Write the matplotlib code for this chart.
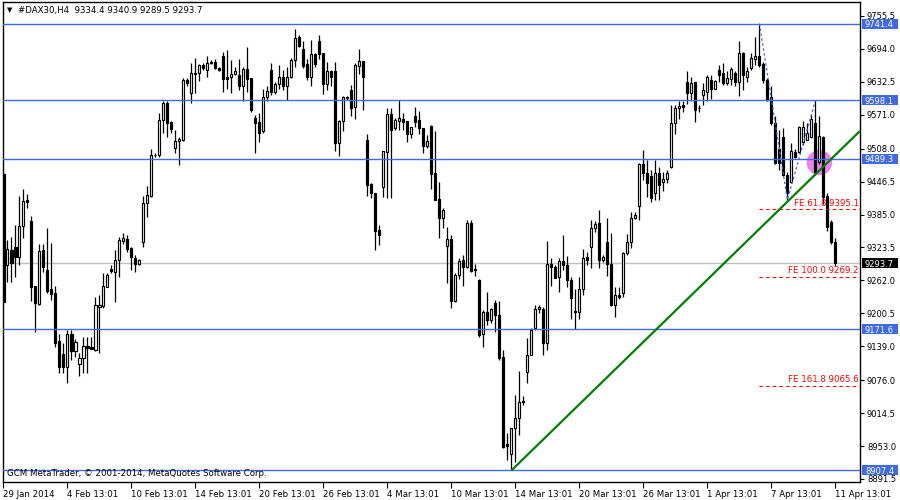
import numpy as np
import matplotlib.pyplot as plt
from matplotlib.patches import Ellipse, Rectangle
from matplotlib.transforms import blended_transform_factory

# DAX30 H4 bars
opens = [9461, 9290, 9319, 9324, 9305, 9363, 9412, 9373, 9252, 9218,
         9319, 9282, 9246, 9238, 9149, 9125, 9101, 9163, 9131, 9107,
         9117, 9140, 9138, 9132, 9213, 9215, 9250, 9283, 9278, 9300,
         9336, 9340, 9322, 9303, 9292, 9334, 9407, 9420, 9496, 9496,
         9561, 9593, 9558, 9510, 9523, 9524, 9636, 9612, 9650, 9649,
         9664, 9655, 9668, 9670, 9659, 9681, 9642, 9641, 9647, 9645,
         9624, 9657, 9639, 9566, 9558, 9540, 9605, 9655, 9614, 9629,
         9642, 9625, 9641, 9673, 9716, 9693, 9666, 9641, 9685, 9709,
         9686, 9628, 9653, 9653, 9519, 9560, 9603, 9617, 9585, 9663,
         9671, 9524, 9442, 9425, 9356, 9437, 9502, 9572, 9546, 9560,
         9564, 9560, 9536, 9569, 9561, 9547, 9512, 9551, 9462, 9414,
         9378, 9327, 9339, 9224, 9272, 9300, 9288, 9369, 9284, 9263,
         9162, 9203, 9188, 9219, 9198, 9119, 8956, 8939, 8986, 9006,
         9035, 9092, 9123, 9173, 9209, 9209, 9145, 9292, 9288, 9269,
         9298, 9291, 9263, 9205, 9203, 9246, 9305, 9325, 9359, 9369,
         9301, 9334, 9292, 9216, 9235, 9238, 9314, 9334, 9378, 9400,
         9479, 9463, 9457, 9425, 9463, 9446, 9451, 9474, 9555, 9583,
         9589, 9633, 9612, 9632, 9583, 9608, 9614, 9636, 9620, 9655,
         9650, 9631, 9637, 9650, 9633, 9686, 9642, 9658, 9676, 9681,
         9666, 9636, 9605, 9555, 9508, 9530, 9459, 9446, 9502, 9502,
         9521, 9525, 9530, 9555, 9483, 9530, 9420, 9372, 9334.4]
highs = [9465, 9338, 9344, 9366, 9420, 9432, 9423, 9382, 9252, 9330,
         9330, 9359, 9331, 9252, 9163, 9145, 9170, 9170, 9152, 9127,
         9157, 9157, 9157, 9232, 9235, 9275, 9275, 9291, 9319, 9344,
         9351, 9347, 9325, 9310, 9302, 9420, 9438, 9507, 9499, 9574,
         9596, 9596, 9560, 9542, 9529, 9639, 9639, 9668, 9677, 9666,
         9667, 9680, 9673, 9675, 9661, 9689, 9692, 9673, 9661, 9676,
         9661, 9698, 9640, 9571, 9575, 9620, 9624, 9668, 9633, 9664,
         9655, 9661, 9678, 9732, 9720, 9709, 9675, 9711, 9686, 9720,
         9687, 9670, 9655, 9670, 9561, 9606, 9606, 9627, 9667, 9693,
         9672, 9535, 9444, 9425, 9365, 9504, 9583, 9584, 9565, 9599,
         9574, 9560, 9549, 9585, 9579, 9547, 9533, 9552, 9541, 9445,
         9397, 9362, 9347, 9275, 9303, 9310, 9375, 9375, 9292, 9265,
         9207, 9241, 9210, 9226, 9224, 9132, 8977, 8986, 9048, 9093,
         9047, 9154, 9173, 9216, 9216, 9213, 9336, 9303, 9290, 9303,
         9346, 9308, 9269, 9246, 9269, 9321, 9316, 9375, 9373, 9393,
         9310, 9379, 9350, 9249, 9249, 9315, 9348, 9390, 9390, 9481,
         9505, 9487, 9468, 9487, 9474, 9465, 9468, 9589, 9589, 9596,
         9596, 9652, 9641, 9633, 9589, 9630, 9645, 9645, 9636, 9664,
         9667, 9652, 9661, 9652, 9708, 9689, 9661, 9686, 9717, 9741.4,
         9670, 9639, 9624, 9568, 9543, 9546, 9465, 9518, 9508, 9550,
         9560, 9555, 9571, 9598.1, 9568, 9531, 9425, 9375, 9340.9]
lows = [9220, 9260, 9260, 9269, 9291, 9341, 9398, 9224, 9165, 9216,
        9278, 9238, 9226, 9138, 9089, 9090, 9071, 9114, 9119, 9083,
        9090, 9090, 9135, 9131, 9127, 9210, 9249, 9275, 9222, 9269,
        9330, 9316, 9282, 9278, 9291, 9325, 9381, 9418, 9492, 9492,
        9537, 9529, 9538, 9499, 9477, 9523, 9624, 9593, 9611, 9635,
        9655, 9642, 9666, 9656, 9653, 9614, 9620, 9611, 9645, 9617,
        9596, 9614, 9577, 9500, 9521, 9538, 9596, 9608, 9610, 9620,
        9617, 9599, 9639, 9661, 9698, 9659, 9636, 9624, 9661, 9676,
        9610, 9617, 9624, 9504, 9494, 9540, 9599, 9568, 9563, 9648,
        9581, 9420, 9415, 9319, 9328, 9417, 9415, 9415, 9543, 9543,
        9543, 9521, 9527, 9549, 9536, 9500, 9510, 9433, 9412, 9342,
        9360, 9257, 9211, 9222, 9265, 9252, 9286, 9278, 9271, 9157,
        9138, 9179, 9182, 9166, 9114, 8949, 8927, 8907.4, 8924, 8974,
        9030, 9070, 9122, 9170, 9201, 9123, 9132, 9252, 9266, 9240,
        9282, 9249, 9190, 9171, 9190, 9234, 9291, 9285, 9353, 9285,
        9297, 9271, 9215, 9194, 9227, 9232, 9310, 9323, 9377, 9375,
        9449, 9418, 9409, 9412, 9412, 9428, 9444, 9471, 9536, 9563,
        9577, 9592, 9596, 9558, 9577, 9589, 9596, 9600, 9619, 9633,
        9627, 9627, 9627, 9624, 9606, 9617, 9633, 9655, 9664, 9661,
        9630, 9596, 9552, 9480, 9468, 9456, 9412.5, 9443, 9490, 9499,
        9515, 9524, 9527, 9459, 9480, 9405, 9355, 9330, 9289.5]
closes = [9222, 9320, 9295, 9305, 9364, 9410, 9409, 9250, 9219, 9317,
          9288, 9243, 9237, 9146, 9101, 9101, 9163, 9131, 9147, 9117,
          9140, 9136, 9135, 9216, 9216, 9252, 9272, 9279, 9300, 9338,
          9341, 9321, 9305, 9292, 9300, 9407, 9421, 9497, 9497, 9561,
          9593, 9556, 9544, 9523, 9526, 9636, 9631, 9649, 9647, 9664,
          9658, 9667, 9670, 9658, 9655, 9637, 9638, 9647, 9652, 9624,
          9657, 9637, 9581, 9556, 9538, 9605, 9615, 9614, 9629, 9641,
          9625, 9641, 9673, 9714, 9700, 9663, 9641, 9685, 9666, 9685,
          9629, 9653, 9641, 9519, 9560, 9605, 9604, 9583, 9664, 9671,
          9641, 9441, 9425, 9355, 9346, 9504, 9572, 9543, 9561, 9565,
          9558, 9536, 9548, 9558, 9547, 9512, 9522, 9461, 9412, 9378,
          9394, 9339, 9224, 9272, 9298, 9287, 9369, 9280, 9282, 9160,
          9204, 9188, 9209, 9198, 9117, 8952, 8954, 8986, 9006, 9035,
          9037, 9123, 9170, 9209, 9213, 9145, 9292, 9288, 9267, 9298,
          9290, 9262, 9230, 9203, 9246, 9303, 9301, 9359, 9367, 9300,
          9306, 9292, 9216, 9235, 9232, 9314, 9334, 9378, 9385, 9479,
          9462, 9443, 9415, 9463, 9440, 9451, 9462, 9555, 9583, 9588,
          9585, 9612, 9630, 9581, 9584, 9617, 9641, 9620, 9635, 9645,
          9631, 9639, 9656, 9633, 9686, 9645, 9652, 9678, 9681, 9664,
          9636, 9599, 9555, 9482, 9482, 9459, 9425, 9504, 9493, 9549,
          9549, 9537, 9563, 9465, 9532, 9418, 9362, 9334, 9293.7]

date_ticks = list(range(0, 209, 16))
date_labels = ["29 Jan 2014", "4 Feb 13:01", "10 Feb 13:01", "14 Feb 13:01",
               "20 Feb 13:01", "26 Feb 13:01", "4 Mar 13:01", "10 Mar 13:01",
               "14 Mar 13:01", "20 Mar 13:01", "26 Mar 13:01", "1 Apr 13:01",
               "7 Apr 13:01", "11 Apr 13:01"]
price_ticks = [9755.5, 9694.0, 9632.5, 9571.0, 9508.0, 9446.5, 9385.0, 9323.5,
               9262.0, 9200.5, 9139.0, 9076.0, 9014.5, 8953.0, 8891.5]

hlines = [9741.4, 9598.1, 9489.3, 9171.6, 8907.4]
bid = 9293.7
fe_points = [(189, 9741.4), (196, 9412.5), (203, 9598.1)]
fe_levels = ["61.8", "100.0", "161.8"]
fe_prices = [9395.1, 9269.2, 9065.6]
trend_start = (127, 8907.4)
trend_slope = 7.27   # points per bar
circle_center = (204.0, 9482.0)

blue = "#4169E1"
plt.rcParams['font.family'] = ['DejaVu Sans']
fs = 6.0

fig = plt.figure(figsize=(9, 5), dpi=100)
ax = fig.add_axes([3/900, 18/500, 857/900, 480/500])
xmin, xmax = -0.1, 214.15
ymin, ymax = 8885.9, 9781.6
ax.set_xlim(xmin, xmax)
ax.set_ylim(ymin, ymax)
px_y = (ymax - ymin) / 480   # price per pixel

o = np.array(opens); h = np.array(highs); l = np.array(lows); c = np.array(closes)
idx = np.arange(len(o))

# marked zone
ax.add_patch(Ellipse(circle_center, 6.4, 47, color="#EE82EE", zorder=1, lw=0))

# candles
ax.vlines(idx, l, h, color="black", lw=0.9, zorder=3)
up = c >= o
ax.bar(idx, np.abs(c - o), bottom=np.minimum(o, c), width=0.55,
       color=np.where(up, "white", "black"), edgecolor="black", lw=0.85, zorder=4)

# horizontal levels
for lv in hlines:
    ax.axhline(lv, color=blue, lw=1.0, zorder=5)
ax.axhline(bid, color="#C0C0C0", lw=1.0, zorder=2)

# fibonacci expansion
fx = [p[0] for p in fe_points]
fy = [p[1] for p in fe_points]
ax.plot(fx, fy, color=blue, lw=0.9, ls=(0, (2, 2)), zorder=6)
for lvl, pr in zip(fe_levels, fe_prices):
    ax.plot([fe_points[0][0], xmax], [pr, pr], color="red", lw=0.8,
            ls=(0, (3, 3)), zorder=6)
    ax.text(xmax - 0.3, pr + 3, f"FE {lvl} {pr:.1f}", color="red", fontsize=6.2,
            ha="right", va="bottom", zorder=7)

# trendline ray
tx = np.array([trend_start[0], xmax])
ax.plot(tx, trend_start[1] + trend_slope * (tx - trend_start[0]),
        color="#008000", lw=1.6, zorder=6, solid_capstyle="butt")

# axes styling
for sp in ax.spines.values():
    sp.set_color("black")
    sp.set_linewidth(1.0)
ax.yaxis.tick_right()
ax.set_yticks(price_ticks)
ax.set_yticklabels([f"{v:.1f}" for v in price_ticks])
ax.tick_params(axis="y", direction="out", length=3, width=0.8, pad=2,
               labelsize=fs, colors="black")
ax.set_xticks(date_ticks)
ax.set_xticklabels(date_labels)
ax.tick_params(axis="x", direction="out", length=4, width=0.8, pad=2,
               labelsize=6.2)
for lbl in ax.get_xticklabels():
    lbl.set_ha("left")

# price labels on the right scale
trans = blended_transform_factory(ax.transAxes, ax.transData)
box_h = 10 * px_y
for lv, fc in [(v, blue) for v in hlines] + [(bid, "black")]:
    ax.add_patch(Rectangle((1.0 + 2/857, lv - box_h / 2), 36/857, box_h,
                           transform=trans, fc=fc, ec="none", clip_on=False,
                           zorder=9))
    ax.text(1.0 + 5/857, lv - 1.2 * px_y, f"{lv:.1f}", transform=trans,
            color="white", fontsize=fs, ha="left", va="center",
            clip_on=False, zorder=10)

fig.text(10/900, 1 - 10/500, "\u25BC", fontsize=5, ha="center", va="center")
fig.text(18/900, 1 - 10/500,
         f"#DAX30,H4  {opens[-1]:.1f} {highs[-1]:.1f} {lows[-1]:.1f} {closes[-1]:.1f}",
         fontsize=6.2, ha="left", va="center")
fig.text(7/900, 1 - 474/500, "GCM MetaTrader, \u00A9 2001-2014, MetaQuotes Software Corp.",
         fontsize=6.2, ha="left", va="center")

fig.savefig("out.png", dpi=100)
